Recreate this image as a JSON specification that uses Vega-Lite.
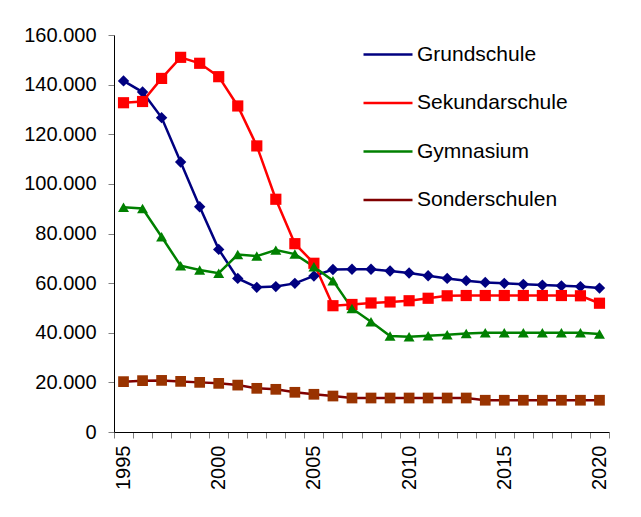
{
  "$schema": "https://vega.github.io/schema/vega-lite/v6.json",
  "width": 495,
  "height": 397,
  "autosize": {"type": "none"},
  "padding": {"left": 114, "top": 35, "right": 32, "bottom": 85},
  "background": "white",
  "config": {
    "view": {"stroke": null},
    "font": "Liberation Sans",
    "axis": {"grid": false, "domainColor": "#000000", "tickColor": "#808080", "tickSize": 6, "labelColor": "#000000", "labelFont": "Liberation Sans"}
  },
  "data": {
    "values": [
      {"year": 1995, "series": "Grundschule", "value": 141500},
      {"year": 1996, "series": "Grundschule", "value": 137000},
      {"year": 1997, "series": "Grundschule", "value": 126700},
      {"year": 1998, "series": "Grundschule", "value": 108800},
      {"year": 1999, "series": "Grundschule", "value": 90800},
      {"year": 2000, "series": "Grundschule", "value": 73600},
      {"year": 2001, "series": "Grundschule", "value": 61900},
      {"year": 2002, "series": "Grundschule", "value": 58300},
      {"year": 2003, "series": "Grundschule", "value": 58600},
      {"year": 2004, "series": "Grundschule", "value": 59900},
      {"year": 2005, "series": "Grundschule", "value": 62900},
      {"year": 2006, "series": "Grundschule", "value": 65500},
      {"year": 2007, "series": "Grundschule", "value": 65600},
      {"year": 2008, "series": "Grundschule", "value": 65600},
      {"year": 2009, "series": "Grundschule", "value": 64900},
      {"year": 2010, "series": "Grundschule", "value": 64100},
      {"year": 2011, "series": "Grundschule", "value": 63000},
      {"year": 2012, "series": "Grundschule", "value": 61900},
      {"year": 2013, "series": "Grundschule", "value": 61000},
      {"year": 2014, "series": "Grundschule", "value": 60300},
      {"year": 2015, "series": "Grundschule", "value": 59900},
      {"year": 2016, "series": "Grundschule", "value": 59500},
      {"year": 2017, "series": "Grundschule", "value": 59200},
      {"year": 2018, "series": "Grundschule", "value": 58900},
      {"year": 2019, "series": "Grundschule", "value": 58600},
      {"year": 2020, "series": "Grundschule", "value": 58000},
      {"year": 1995, "series": "Sekundarschule", "value": 132700},
      {"year": 1996, "series": "Sekundarschule", "value": 133200},
      {"year": 1997, "series": "Sekundarschule", "value": 142500},
      {"year": 1998, "series": "Sekundarschule", "value": 151000},
      {"year": 1999, "series": "Sekundarschule", "value": 148600},
      {"year": 2000, "series": "Sekundarschule", "value": 143200},
      {"year": 2001, "series": "Sekundarschule", "value": 131400},
      {"year": 2002, "series": "Sekundarschule", "value": 115300},
      {"year": 2003, "series": "Sekundarschule", "value": 93800},
      {"year": 2004, "series": "Sekundarschule", "value": 75900},
      {"year": 2005, "series": "Sekundarschule", "value": 68000},
      {"year": 2006, "series": "Sekundarschule", "value": 50900},
      {"year": 2007, "series": "Sekundarschule", "value": 51400},
      {"year": 2008, "series": "Sekundarschule", "value": 52000},
      {"year": 2009, "series": "Sekundarschule", "value": 52400},
      {"year": 2010, "series": "Sekundarschule", "value": 52900},
      {"year": 2011, "series": "Sekundarschule", "value": 53900},
      {"year": 2012, "series": "Sekundarschule", "value": 54900},
      {"year": 2013, "series": "Sekundarschule", "value": 55000},
      {"year": 2014, "series": "Sekundarschule", "value": 55000},
      {"year": 2015, "series": "Sekundarschule", "value": 55000},
      {"year": 2016, "series": "Sekundarschule", "value": 55000},
      {"year": 2017, "series": "Sekundarschule", "value": 55000},
      {"year": 2018, "series": "Sekundarschule", "value": 55000},
      {"year": 2019, "series": "Sekundarschule", "value": 54900},
      {"year": 2020, "series": "Sekundarschule", "value": 51900},
      {"year": 1995, "series": "Gymnasium", "value": 90600},
      {"year": 1996, "series": "Gymnasium", "value": 90100},
      {"year": 1997, "series": "Gymnasium", "value": 78700},
      {"year": 1998, "series": "Gymnasium", "value": 67000},
      {"year": 1999, "series": "Gymnasium", "value": 65300},
      {"year": 2000, "series": "Gymnasium", "value": 64000},
      {"year": 2001, "series": "Gymnasium", "value": 71500},
      {"year": 2002, "series": "Gymnasium", "value": 70900},
      {"year": 2003, "series": "Gymnasium", "value": 73300},
      {"year": 2004, "series": "Gymnasium", "value": 71700},
      {"year": 2005, "series": "Gymnasium", "value": 66600},
      {"year": 2006, "series": "Gymnasium", "value": 61000},
      {"year": 2007, "series": "Gymnasium", "value": 49800},
      {"year": 2008, "series": "Gymnasium", "value": 44400},
      {"year": 2009, "series": "Gymnasium", "value": 38700},
      {"year": 2010, "series": "Gymnasium", "value": 38400},
      {"year": 2011, "series": "Gymnasium", "value": 38800},
      {"year": 2012, "series": "Gymnasium", "value": 39200},
      {"year": 2013, "series": "Gymnasium", "value": 39700},
      {"year": 2014, "series": "Gymnasium", "value": 40000},
      {"year": 2015, "series": "Gymnasium", "value": 40000},
      {"year": 2016, "series": "Gymnasium", "value": 40000},
      {"year": 2017, "series": "Gymnasium", "value": 40000},
      {"year": 2018, "series": "Gymnasium", "value": 40000},
      {"year": 2019, "series": "Gymnasium", "value": 40000},
      {"year": 2020, "series": "Gymnasium", "value": 39500},
      {"year": 1995, "series": "Sonderschulen", "value": 20300},
      {"year": 1996, "series": "Sonderschulen", "value": 20700},
      {"year": 1997, "series": "Sonderschulen", "value": 20800},
      {"year": 1998, "series": "Sonderschulen", "value": 20400},
      {"year": 1999, "series": "Sonderschulen", "value": 20000},
      {"year": 2000, "series": "Sonderschulen", "value": 19600},
      {"year": 2001, "series": "Sonderschulen", "value": 18900},
      {"year": 2002, "series": "Sonderschulen", "value": 17600},
      {"year": 2003, "series": "Sonderschulen", "value": 17200},
      {"year": 2004, "series": "Sonderschulen", "value": 16000},
      {"year": 2005, "series": "Sonderschulen", "value": 15200},
      {"year": 2006, "series": "Sonderschulen", "value": 14500},
      {"year": 2007, "series": "Sonderschulen", "value": 13700},
      {"year": 2008, "series": "Sonderschulen", "value": 13700},
      {"year": 2009, "series": "Sonderschulen", "value": 13700},
      {"year": 2010, "series": "Sonderschulen", "value": 13700},
      {"year": 2011, "series": "Sonderschulen", "value": 13700},
      {"year": 2012, "series": "Sonderschulen", "value": 13700},
      {"year": 2013, "series": "Sonderschulen", "value": 13700},
      {"year": 2014, "series": "Sonderschulen", "value": 12800},
      {"year": 2015, "series": "Sonderschulen", "value": 12800},
      {"year": 2016, "series": "Sonderschulen", "value": 12800},
      {"year": 2017, "series": "Sonderschulen", "value": 12800},
      {"year": 2018, "series": "Sonderschulen", "value": 12800},
      {"year": 2019, "series": "Sonderschulen", "value": 12800},
      {"year": 2020, "series": "Sonderschulen", "value": 12800}
    ]
  },
  "encoding": {
    "x": {
      "field": "year", "type": "ordinal", "bandPosition": 0.5,
      "scale": {"type": "band", "paddingInner": 0, "paddingOuter": 0},
      "axis": {"title": null, "tickBand": "extent", "labelAngle": 270, "labelAlign": "right", "labelBaseline": "middle", "labelFontSize": 20, "labelPadding": 7, "labelExpr": "datum.value % 5 === 0 ? datum.label : ''"}
    },
    "y": {
      "field": "value", "type": "quantitative",
      "scale": {"domain": [0, 160000], "nice": false},
      "axis": {"title": null, "values": [0, 20000, 40000, 60000, 80000, 100000, 120000, 140000, 160000], "format": ",d", "labelExpr": "replace(datum.label, ',', '.')", "labelFontSize": 20, "labelPadding": 12}
    }
  },
  "resolve": {"legend": {"stroke": "independent"}},
  "layer": [
    {
      "mark": {"type": "line", "strokeWidth": 2.5},
      "encoding": {
        "stroke": {"field": "series", "type": "nominal",
          "scale": {"domain": ["Grundschule", "Sekundarschule", "Gymnasium", "Sonderschulen"], "range": ["#000080", "#FF0000", "#008000", "#800000"]},
          "legend": {
            "title": null, "orient": "none", "legendX": 248, "legendY": -6.5, "padding": 0,
            "symbolType": "stroke", "symbolSize": 2401, "symbolStrokeWidth": 2.5, "rowPadding": 12.5, "labelOffset": 3,
            "labelFontSize": 21, "labelFont": "Liberation Sans", "labelColor": "#000000", "labelLimit": 300
          }
        }
      }
    },
    {
      "mark": {"type": "point", "filled": true, "opacity": 1},
      "encoding": {
        "fill": {"field": "series", "type": "nominal", "legend": null,
          "scale": {"domain": ["Grundschule", "Sekundarschule", "Gymnasium", "Sonderschulen"], "range": ["#000080", "#FF0000", "#008000", "#993300"]}},
        "shape": {"field": "series", "type": "nominal", "legend": null,
          "scale": {"domain": ["Grundschule", "Sekundarschule", "Gymnasium", "Sonderschulen"], "range": ["diamond", "square", "triangle-up", "square"]}},
        "size": {"field": "series", "type": "nominal", "legend": null,
          "scale": {"domain": ["Grundschule", "Sekundarschule", "Gymnasium", "Sonderschulen"], "range": [130, 115, 140, 105]}}
      }
    }
  ]
}
